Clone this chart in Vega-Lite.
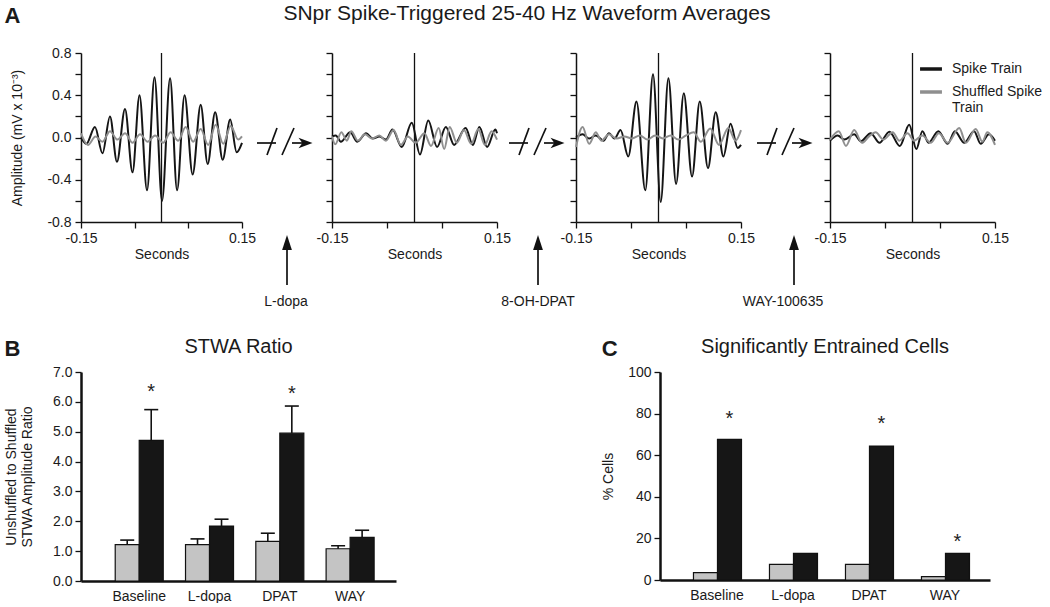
{
  "$schema": "https://vega.github.io/schema/vega-lite/v6.json",
  "background": "white",
  "padding": {"left": 4, "top": 3, "right": 0, "bottom": 0},
  "title": {"text": "A", "anchor": "start", "fontSize": 22, "fontWeight": "bold", "offset": 0, "dy": 25},
  "config": {
    "font": "Liberation Sans",
    "view": {"stroke": null},
    "axis": {"grid": false, "ticks": true, "tickOpacity": 1, "labelOverlap": false, "domainColor": "#111", "tickColor": "#111", "labelColor": "#1a1a1a", "titleColor": "#1a1a1a", "labelFont": "Liberation Sans", "titleFont": "Liberation Sans", "labelFontSize": 14, "titleFontSize": 14, "titleFontWeight": "normal", "domainWidth": 1.5, "tickWidth": 1.3},
    "title": {"font": "Liberation Sans", "fontWeight": "normal", "fontSize": 20, "color": "#1a1a1a"},
    "legend": {"labelFont": "Liberation Sans", "labelFontSize": 14, "labelColor": "#1a1a1a"}
  },
  "datasets": {
    "wave": [
      {"p":1,"s":"Spike Train","t":-0.15,"v":0.0},{"p":1,"s":"Spike Train","t":-0.14,"v":-0.06},{"p":1,"s":"Spike Train","t":-0.124,"v":0.1},{"p":1,"s":"Spike Train","t":-0.11,"v":-0.15},{"p":1,"s":"Spike Train","t":-0.096,"v":0.2},{"p":1,"s":"Spike Train","t":-0.083,"v":-0.23},{"p":1,"s":"Spike Train","t":-0.068,"v":0.27},{"p":1,"s":"Spike Train","t":-0.054,"v":-0.33},{"p":1,"s":"Spike Train","t":-0.041,"v":0.4},{"p":1,"s":"Spike Train","t":-0.027,"v":-0.5},{"p":1,"s":"Spike Train","t":-0.013,"v":0.57},{"p":1,"s":"Spike Train","t":0.001,"v":-0.6},{"p":1,"s":"Spike Train","t":0.016,"v":0.56},{"p":1,"s":"Spike Train","t":0.029,"v":-0.5},{"p":1,"s":"Spike Train","t":0.043,"v":0.4},{"p":1,"s":"Spike Train","t":0.058,"v":-0.35},{"p":1,"s":"Spike Train","t":0.073,"v":0.31},{"p":1,"s":"Spike Train","t":0.086,"v":-0.25},{"p":1,"s":"Spike Train","t":0.1,"v":0.24},{"p":1,"s":"Spike Train","t":0.114,"v":-0.21},{"p":1,"s":"Spike Train","t":0.128,"v":0.17},{"p":1,"s":"Spike Train","t":0.14,"v":-0.14},{"p":1,"s":"Spike Train","t":0.15,"v":-0.05},
      {"p":1,"s":"Shuffled Spike Train","t":-0.15,"v":0.04},{"p":1,"s":"Shuffled Spike Train","t":-0.137,"v":-0.07},{"p":1,"s":"Shuffled Spike Train","t":-0.123,"v":0.01},{"p":1,"s":"Shuffled Spike Train","t":-0.11,"v":-0.04},{"p":1,"s":"Shuffled Spike Train","t":-0.096,"v":0.06},{"p":1,"s":"Shuffled Spike Train","t":-0.082,"v":-0.02},{"p":1,"s":"Shuffled Spike Train","t":-0.068,"v":0.04},{"p":1,"s":"Shuffled Spike Train","t":-0.054,"v":-0.05},{"p":1,"s":"Shuffled Spike Train","t":-0.04,"v":0.03},{"p":1,"s":"Shuffled Spike Train","t":-0.026,"v":-0.04},{"p":1,"s":"Shuffled Spike Train","t":-0.012,"v":0.02},{"p":1,"s":"Shuffled Spike Train","t":0.003,"v":-0.05},{"p":1,"s":"Shuffled Spike Train","t":0.017,"v":0.05},{"p":1,"s":"Shuffled Spike Train","t":0.031,"v":-0.03},{"p":1,"s":"Shuffled Spike Train","t":0.045,"v":0.1},{"p":1,"s":"Shuffled Spike Train","t":0.059,"v":-0.04},{"p":1,"s":"Shuffled Spike Train","t":0.073,"v":0.08},{"p":1,"s":"Shuffled Spike Train","t":0.087,"v":-0.07},{"p":1,"s":"Shuffled Spike Train","t":0.101,"v":0.12},{"p":1,"s":"Shuffled Spike Train","t":0.115,"v":-0.06},{"p":1,"s":"Shuffled Spike Train","t":0.129,"v":0.11},{"p":1,"s":"Shuffled Spike Train","t":0.143,"v":-0.02},{"p":1,"s":"Shuffled Spike Train","t":0.15,"v":0.01},
      {"p":2,"s":"Spike Train","t":-0.15,"v":0.01},{"p":2,"s":"Spike Train","t":-0.143,"v":0.02},{"p":2,"s":"Spike Train","t":-0.134,"v":-0.04},{"p":2,"s":"Spike Train","t":-0.117,"v":0.05},{"p":2,"s":"Spike Train","t":-0.104,"v":-0.04},{"p":2,"s":"Spike Train","t":-0.088,"v":0.04},{"p":2,"s":"Spike Train","t":-0.076,"v":-0.01},{"p":2,"s":"Spike Train","t":-0.064,"v":0.01},{"p":2,"s":"Spike Train","t":-0.052,"v":-0.02},{"p":2,"s":"Spike Train","t":-0.04,"v":0.075},{"p":2,"s":"Spike Train","t":-0.023,"v":-0.09},{"p":2,"s":"Spike Train","t":-0.005,"v":0.14},{"p":2,"s":"Spike Train","t":0.01,"v":-0.16},{"p":2,"s":"Spike Train","t":0.025,"v":0.16},{"p":2,"s":"Spike Train","t":0.041,"v":-0.09},{"p":2,"s":"Spike Train","t":0.057,"v":0.1},{"p":2,"s":"Spike Train","t":0.072,"v":-0.07},{"p":2,"s":"Spike Train","t":0.093,"v":0.09},{"p":2,"s":"Spike Train","t":0.106,"v":-0.07},{"p":2,"s":"Spike Train","t":0.118,"v":0.1},{"p":2,"s":"Spike Train","t":0.132,"v":-0.09},{"p":2,"s":"Spike Train","t":0.147,"v":0.075},{"p":2,"s":"Spike Train","t":0.15,"v":0.04},
      {"p":2,"s":"Shuffled Spike Train","t":-0.15,"v":0.01},{"p":2,"s":"Shuffled Spike Train","t":-0.144,"v":-0.065},{"p":2,"s":"Shuffled Spike Train","t":-0.133,"v":0.05},{"p":2,"s":"Shuffled Spike Train","t":-0.123,"v":-0.03},{"p":2,"s":"Shuffled Spike Train","t":-0.115,"v":0.06},{"p":2,"s":"Shuffled Spike Train","t":-0.103,"v":-0.03},{"p":2,"s":"Shuffled Spike Train","t":-0.09,"v":0.03},{"p":2,"s":"Shuffled Spike Train","t":-0.077,"v":-0.01},{"p":2,"s":"Shuffled Spike Train","t":-0.064,"v":0.02},{"p":2,"s":"Shuffled Spike Train","t":-0.052,"v":-0.03},{"p":2,"s":"Shuffled Spike Train","t":-0.038,"v":0.07},{"p":2,"s":"Shuffled Spike Train","t":-0.025,"v":-0.07},{"p":2,"s":"Shuffled Spike Train","t":-0.012,"v":0.01},{"p":2,"s":"Shuffled Spike Train","t":0.002,"v":-0.05},{"p":2,"s":"Shuffled Spike Train","t":0.018,"v":0.04},{"p":2,"s":"Shuffled Spike Train","t":0.03,"v":-0.08},{"p":2,"s":"Shuffled Spike Train","t":0.044,"v":0.09},{"p":2,"s":"Shuffled Spike Train","t":0.054,"v":-0.11},{"p":2,"s":"Shuffled Spike Train","t":0.064,"v":0.1},{"p":2,"s":"Shuffled Spike Train","t":0.077,"v":-0.05},{"p":2,"s":"Shuffled Spike Train","t":0.09,"v":0.07},{"p":2,"s":"Shuffled Spike Train","t":0.103,"v":-0.06},{"p":2,"s":"Shuffled Spike Train","t":0.116,"v":0.08},{"p":2,"s":"Shuffled Spike Train","t":0.128,"v":-0.07},{"p":2,"s":"Shuffled Spike Train","t":0.14,"v":0.06},{"p":2,"s":"Shuffled Spike Train","t":0.15,"v":-0.02},
      {"p":3,"s":"Spike Train","t":-0.15,"v":0.0},{"p":3,"s":"Spike Train","t":-0.138,"v":0.03},{"p":3,"s":"Spike Train","t":-0.126,"v":-0.01},{"p":3,"s":"Spike Train","t":-0.114,"v":0.02},{"p":3,"s":"Spike Train","t":-0.1,"v":-0.03},{"p":3,"s":"Spike Train","t":-0.09,"v":0.04},{"p":3,"s":"Spike Train","t":-0.08,"v":-0.01},{"p":3,"s":"Spike Train","t":-0.069,"v":0.07},{"p":3,"s":"Spike Train","t":-0.055,"v":-0.18},{"p":3,"s":"Spike Train","t":-0.04,"v":0.34},{"p":3,"s":"Spike Train","t":-0.024,"v":-0.5},{"p":3,"s":"Spike Train","t":-0.01,"v":0.6},{"p":3,"s":"Spike Train","t":0.004,"v":-0.61},{"p":3,"s":"Spike Train","t":0.018,"v":0.56},{"p":3,"s":"Spike Train","t":0.032,"v":-0.44},{"p":3,"s":"Spike Train","t":0.046,"v":0.42},{"p":3,"s":"Spike Train","t":0.061,"v":-0.37},{"p":3,"s":"Spike Train","t":0.075,"v":0.34},{"p":3,"s":"Spike Train","t":0.09,"v":-0.29},{"p":3,"s":"Spike Train","t":0.104,"v":0.24},{"p":3,"s":"Spike Train","t":0.118,"v":-0.18},{"p":3,"s":"Spike Train","t":0.131,"v":0.13},{"p":3,"s":"Spike Train","t":0.144,"v":-0.1},{"p":3,"s":"Spike Train","t":0.15,"v":-0.07},
      {"p":3,"s":"Shuffled Spike Train","t":-0.15,"v":-0.09},{"p":3,"s":"Shuffled Spike Train","t":-0.138,"v":0.1},{"p":3,"s":"Shuffled Spike Train","t":-0.126,"v":-0.06},{"p":3,"s":"Shuffled Spike Train","t":-0.114,"v":0.05},{"p":3,"s":"Shuffled Spike Train","t":-0.104,"v":-0.03},{"p":3,"s":"Shuffled Spike Train","t":-0.09,"v":0.03},{"p":3,"s":"Shuffled Spike Train","t":-0.076,"v":-0.01},{"p":3,"s":"Shuffled Spike Train","t":-0.062,"v":0.01},{"p":3,"s":"Shuffled Spike Train","t":-0.048,"v":-0.01},{"p":3,"s":"Shuffled Spike Train","t":-0.034,"v":0.02},{"p":3,"s":"Shuffled Spike Train","t":-0.02,"v":-0.02},{"p":3,"s":"Shuffled Spike Train","t":-0.006,"v":0.02},{"p":3,"s":"Shuffled Spike Train","t":0.008,"v":-0.01},{"p":3,"s":"Shuffled Spike Train","t":0.022,"v":0.02},{"p":3,"s":"Shuffled Spike Train","t":0.036,"v":-0.02},{"p":3,"s":"Shuffled Spike Train","t":0.05,"v":0.02},{"p":3,"s":"Shuffled Spike Train","t":0.064,"v":0.05},{"p":3,"s":"Shuffled Spike Train","t":0.077,"v":-0.04},{"p":3,"s":"Shuffled Spike Train","t":0.094,"v":0.085},{"p":3,"s":"Shuffled Spike Train","t":0.11,"v":-0.07},{"p":3,"s":"Shuffled Spike Train","t":0.127,"v":0.09},{"p":3,"s":"Shuffled Spike Train","t":0.14,"v":-0.03},{"p":3,"s":"Shuffled Spike Train","t":0.15,"v":0.07},
      {"p":4,"s":"Spike Train","t":-0.15,"v":-0.03},{"p":4,"s":"Spike Train","t":-0.136,"v":0.02},{"p":4,"s":"Spike Train","t":-0.124,"v":-0.02},{"p":4,"s":"Spike Train","t":-0.106,"v":0.03},{"p":4,"s":"Spike Train","t":-0.094,"v":-0.035},{"p":4,"s":"Spike Train","t":-0.076,"v":0.04},{"p":4,"s":"Spike Train","t":-0.06,"v":-0.05},{"p":4,"s":"Spike Train","t":-0.042,"v":0.055},{"p":4,"s":"Spike Train","t":-0.023,"v":-0.08},{"p":4,"s":"Spike Train","t":-0.006,"v":0.12},{"p":4,"s":"Spike Train","t":0.007,"v":-0.11},{"p":4,"s":"Spike Train","t":0.018,"v":0.06},{"p":4,"s":"Spike Train","t":0.029,"v":-0.05},{"p":4,"s":"Spike Train","t":0.047,"v":0.06},{"p":4,"s":"Spike Train","t":0.064,"v":-0.06},{"p":4,"s":"Spike Train","t":0.077,"v":0.06},{"p":4,"s":"Spike Train","t":0.094,"v":-0.05},{"p":4,"s":"Spike Train","t":0.112,"v":0.06},{"p":4,"s":"Spike Train","t":0.124,"v":-0.06},{"p":4,"s":"Spike Train","t":0.139,"v":0.03},{"p":4,"s":"Spike Train","t":0.15,"v":-0.03},
      {"p":4,"s":"Shuffled Spike Train","t":-0.15,"v":-0.02},{"p":4,"s":"Shuffled Spike Train","t":-0.134,"v":0.06},{"p":4,"s":"Shuffled Spike Train","t":-0.121,"v":-0.08},{"p":4,"s":"Shuffled Spike Train","t":-0.106,"v":0.07},{"p":4,"s":"Shuffled Spike Train","t":-0.092,"v":-0.05},{"p":4,"s":"Shuffled Spike Train","t":-0.079,"v":0.01},{"p":4,"s":"Shuffled Spike Train","t":-0.067,"v":0.05},{"p":4,"s":"Shuffled Spike Train","t":-0.053,"v":-0.02},{"p":4,"s":"Shuffled Spike Train","t":-0.036,"v":0.05},{"p":4,"s":"Shuffled Spike Train","t":-0.024,"v":-0.03},{"p":4,"s":"Shuffled Spike Train","t":-0.009,"v":0.04},{"p":4,"s":"Shuffled Spike Train","t":0.003,"v":-0.03},{"p":4,"s":"Shuffled Spike Train","t":0.018,"v":0.02},{"p":4,"s":"Shuffled Spike Train","t":0.033,"v":-0.05},{"p":4,"s":"Shuffled Spike Train","t":0.048,"v":0.04},{"p":4,"s":"Shuffled Spike Train","t":0.064,"v":-0.05},{"p":4,"s":"Shuffled Spike Train","t":0.085,"v":0.09},{"p":4,"s":"Shuffled Spike Train","t":0.097,"v":-0.05},{"p":4,"s":"Shuffled Spike Train","t":0.115,"v":0.08},{"p":4,"s":"Shuffled Spike Train","t":0.127,"v":-0.04},{"p":4,"s":"Shuffled Spike Train","t":0.136,"v":0.05},{"p":4,"s":"Shuffled Spike Train","t":0.15,"v":-0.07}
    ],
    "stwa": [
      {"c":"Baseline","g":"Shuffled","v":1.22,"e":1.37},
      {"c":"Baseline","g":"Unshuffled","v":4.71,"e":5.74,"star":6.5},
      {"c":"L-dopa","g":"Shuffled","v":1.22,"e":1.41},
      {"c":"L-dopa","g":"Unshuffled","v":1.84,"e":2.07},
      {"c":"DPAT","g":"Shuffled","v":1.33,"e":1.6},
      {"c":"DPAT","g":"Unshuffled","v":4.95,"e":5.86,"star":6.43},
      {"c":"WAY","g":"Shuffled","v":1.08,"e":1.18},
      {"c":"WAY","g":"Unshuffled","v":1.46,"e":1.7}
    ],
    "cells": [
      {"c":"Baseline","g":"Shuffled","v":3.5},
      {"c":"Baseline","g":"Unshuffled","v":67.6,"star":80},
      {"c":"L-dopa","g":"Shuffled","v":7.5},
      {"c":"L-dopa","g":"Unshuffled","v":12.8},
      {"c":"DPAT","g":"Shuffled","v":7.5},
      {"c":"DPAT","g":"Unshuffled","v":64.4,"star":77.2},
      {"c":"WAY","g":"Shuffled","v":1.6},
      {"c":"WAY","g":"Unshuffled","v":12.8,"star":20.7}
    ]
  },
  "columns": 1,
  "align": "none",
  "spacing": 27,
  "concat": [
    {
      "title": {"text": "SNpr Spike-Triggered 25-40 Hz Waveform Averages", "anchor": "middle", "offset": 22, "fontSize": 21},
      "bounds": "flush",
      "spacing": 0,
      "resolve": {"scale": {"color": "independent"}, "legend": {"color": "independent"}},
      "hconcat": [
        {
          "width": 161, "height": 169,
          "layer": [
            {"data": {"values": [{}]}, "mark": {"type": "rule", "color": "#111", "strokeWidth": 1.3}, "encoding": {"x": {"datum": 0, "type": "quantitative"}}},
            {"data": {"name": "wave"}, "transform": [{"filter": "datum.p == 1"}],
             "mark": {"type": "line", "interpolate": "monotone", "strokeWidth": 2},
             "encoding": {
               "x": {"field": "t", "type": "quantitative", "scale": {"domain": [-0.15, 0.15], "nice": false, "zero": false},
                     "axis": {"title": "Seconds", "ticks": true, "values": [-0.15, -0.1, -0.05, 0, 0.05, 0.1, 0.15], "labelExpr": "abs(datum.value) < 0.001 ? '0.00' : (datum.value > 0.14 ? '0.15' : (datum.value < -0.14 ? '-0.15' : ''))", "labelFlush": false, "tickSize": 6, "labelPadding": 3, "titlePadding": 2}},
               "y": {"field": "v", "type": "quantitative", "scale": {"domain": [-0.8, 0.8], "nice": false, "zero": false},
                     "axis": {"title": "Amplitude (mV x 10⁻³)", "ticks": true, "values": [-0.8, -0.6, -0.4, -0.2, 0, 0.2, 0.4, 0.6, 0.8], "labelExpr": "(round(datum.value*10) % 4 == 0) ? replace(format(datum.value, '.1f'), '\u2212', '-') : ''", "tickSize": 6, "labelPadding": 4, "titlePadding": 22}},
               "color": {"field": "s", "type": "nominal", "scale": {"domain": ["Spike Train", "Shuffled Spike Train"], "range": ["#151515", "#8f8f8f"]}, "legend": null}
             }}
          ]
        },
        {
          "width": 90, "height": 257,
          "data": {"values": [
            {"k": "seg", "x": 15, "y": 90, "x2": 34, "y2": 90},
            {"k": "seg", "x": 25, "y": 102, "x2": 35, "y2": 75},
            {"k": "seg", "x": 40, "y": 102, "x2": 52, "y2": 75},
            {"k": "seg", "x": 50, "y": 90, "x2": 64, "y2": 90},
            {"k": "seg", "x": 45, "y": 232, "x2": 45, "y2": 196},
            {"k": "right", "x": 63.5, "y": 90},
            {"k": "up", "x": 45, "y": 189.5},
            {"k": "label", "x": 44, "y": 249, "label": "L-dopa"}
          ]},
          "encoding": {
            "x": {"field": "x", "type": "quantitative", "scale": {"domain": [0, 90], "nice": false, "zero": false}, "axis": null},
            "y": {"field": "y", "type": "quantitative", "scale": {"domain": [257, 0], "nice": false, "zero": false}, "axis": null}
          },
          "layer": [
            {"transform": [{"filter": "datum.k == 'seg'"}], "mark": {"type": "rule", "color": "#111", "strokeWidth": 1.7}, "encoding": {"x2": {"field": "x2"}, "y2": {"field": "y2"}}},
            {"transform": [{"filter": "datum.k == 'right'"}], "mark": {"type": "point", "shape": "M1,0L-1,-0.75L-0.45,0L-1,0.75Z", "filled": true, "size": 196, "color": "#111", "opacity": 1}},
            {"transform": [{"filter": "datum.k == 'up'"}], "mark": {"type": "point", "shape": "M0,-1L0.65,1L-0.65,1Z", "filled": true, "size": 225, "color": "#111", "opacity": 1}},
            {"transform": [{"filter": "datum.k == 'label'"}], "mark": {"type": "text", "fontSize": 14, "color": "#1a1a1a", "baseline": "middle"}, "encoding": {"text": {"field": "label"}}}
          ]
        },
        {
          "width": 165, "height": 169,
          "layer": [
            {"data": {"values": [{}]}, "mark": {"type": "rule", "color": "#111", "strokeWidth": 1.3}, "encoding": {"x": {"datum": 0, "type": "quantitative"}}},
            {"data": {"name": "wave"}, "transform": [{"filter": "datum.p == 2"}],
             "mark": {"type": "line", "interpolate": "monotone", "strokeWidth": 2},
             "encoding": {
               "x": {"field": "t", "type": "quantitative", "scale": {"domain": [-0.15, 0.15], "nice": false, "zero": false},
                     "axis": {"title": "Seconds", "ticks": true, "values": [-0.15, -0.1, -0.05, 0, 0.05, 0.1, 0.15], "labelExpr": "abs(datum.value) < 0.001 ? '0.00' : (datum.value > 0.14 ? '0.15' : (datum.value < -0.14 ? '-0.15' : ''))", "labelFlush": false, "tickSize": 6, "labelPadding": 3, "titlePadding": 2}},
               "y": {"field": "v", "type": "quantitative", "scale": {"domain": [-0.8, 0.8], "nice": false, "zero": false},
                     "axis": {"title": null, "ticks": true, "labels": false, "values": [-0.8, -0.6, -0.4, -0.2, 0, 0.2, 0.4, 0.6, 0.8], "tickSize": 6}},
               "color": {"field": "s", "type": "nominal", "scale": {"domain": ["Spike Train", "Shuffled Spike Train"], "range": ["#151515", "#8f8f8f"]}, "legend": null}
             }}
          ]
        },
        {
          "width": 79, "height": 257,
          "data": {"values": [
            {"k": "seg", "x": 12, "y": 90, "x2": 31, "y2": 90},
            {"k": "seg", "x": 22, "y": 102, "x2": 32, "y2": 75},
            {"k": "seg", "x": 37, "y": 102, "x2": 49, "y2": 75},
            {"k": "seg", "x": 47, "y": 90, "x2": 61, "y2": 90},
            {"k": "seg", "x": 41, "y": 232, "x2": 41, "y2": 196},
            {"k": "right", "x": 60.5, "y": 90},
            {"k": "up", "x": 41, "y": 189.5},
            {"k": "label", "x": 41, "y": 249, "label": "8-OH-DPAT"}
          ]},
          "encoding": {
            "x": {"field": "x", "type": "quantitative", "scale": {"domain": [0, 79], "nice": false, "zero": false}, "axis": null},
            "y": {"field": "y", "type": "quantitative", "scale": {"domain": [257, 0], "nice": false, "zero": false}, "axis": null}
          },
          "layer": [
            {"transform": [{"filter": "datum.k == 'seg'"}], "mark": {"type": "rule", "color": "#111", "strokeWidth": 1.7}, "encoding": {"x2": {"field": "x2"}, "y2": {"field": "y2"}}},
            {"transform": [{"filter": "datum.k == 'right'"}], "mark": {"type": "point", "shape": "M1,0L-1,-0.75L-0.45,0L-1,0.75Z", "filled": true, "size": 196, "color": "#111", "opacity": 1}},
            {"transform": [{"filter": "datum.k == 'up'"}], "mark": {"type": "point", "shape": "M0,-1L0.65,1L-0.65,1Z", "filled": true, "size": 225, "color": "#111", "opacity": 1}},
            {"transform": [{"filter": "datum.k == 'label'"}], "mark": {"type": "text", "fontSize": 14, "color": "#1a1a1a", "baseline": "middle"}, "encoding": {"text": {"field": "label"}}}
          ]
        },
        {
          "width": 165, "height": 169,
          "layer": [
            {"data": {"values": [{}]}, "mark": {"type": "rule", "color": "#111", "strokeWidth": 1.3}, "encoding": {"x": {"datum": 0, "type": "quantitative"}}},
            {"data": {"name": "wave"}, "transform": [{"filter": "datum.p == 3"}],
             "mark": {"type": "line", "interpolate": "monotone", "strokeWidth": 2},
             "encoding": {
               "x": {"field": "t", "type": "quantitative", "scale": {"domain": [-0.15, 0.15], "nice": false, "zero": false},
                     "axis": {"title": "Seconds", "ticks": true, "values": [-0.15, -0.1, -0.05, 0, 0.05, 0.1, 0.15], "labelExpr": "abs(datum.value) < 0.001 ? '0.00' : (datum.value > 0.14 ? '0.15' : (datum.value < -0.14 ? '-0.15' : ''))", "labelFlush": false, "tickSize": 6, "labelPadding": 3, "titlePadding": 2}},
               "y": {"field": "v", "type": "quantitative", "scale": {"domain": [-0.8, 0.8], "nice": false, "zero": false},
                     "axis": {"title": null, "ticks": true, "labels": false, "values": [-0.8, -0.6, -0.4, -0.2, 0, 0.2, 0.4, 0.6, 0.8], "tickSize": 6}},
               "color": {"field": "s", "type": "nominal", "scale": {"domain": ["Spike Train", "Shuffled Spike Train"], "range": ["#151515", "#8f8f8f"]}, "legend": null}
             }}
          ]
        },
        {
          "width": 89, "height": 257,
          "data": {"values": [
            {"k": "seg", "x": 16, "y": 90, "x2": 35, "y2": 90},
            {"k": "seg", "x": 26, "y": 102, "x2": 36, "y2": 75},
            {"k": "seg", "x": 41, "y": 102, "x2": 53, "y2": 75},
            {"k": "seg", "x": 51, "y": 90, "x2": 65, "y2": 90},
            {"k": "seg", "x": 53, "y": 232, "x2": 53, "y2": 196},
            {"k": "right", "x": 64.5, "y": 90},
            {"k": "up", "x": 53, "y": 189.5},
            {"k": "label", "x": 42, "y": 249, "label": "WAY-100635"}
          ]},
          "encoding": {
            "x": {"field": "x", "type": "quantitative", "scale": {"domain": [0, 89], "nice": false, "zero": false}, "axis": null},
            "y": {"field": "y", "type": "quantitative", "scale": {"domain": [257, 0], "nice": false, "zero": false}, "axis": null}
          },
          "layer": [
            {"transform": [{"filter": "datum.k == 'seg'"}], "mark": {"type": "rule", "color": "#111", "strokeWidth": 1.7}, "encoding": {"x2": {"field": "x2"}, "y2": {"field": "y2"}}},
            {"transform": [{"filter": "datum.k == 'right'"}], "mark": {"type": "point", "shape": "M1,0L-1,-0.75L-0.45,0L-1,0.75Z", "filled": true, "size": 196, "color": "#111", "opacity": 1}},
            {"transform": [{"filter": "datum.k == 'up'"}], "mark": {"type": "point", "shape": "M0,-1L0.65,1L-0.65,1Z", "filled": true, "size": 225, "color": "#111", "opacity": 1}},
            {"transform": [{"filter": "datum.k == 'label'"}], "mark": {"type": "text", "fontSize": 14, "color": "#1a1a1a", "baseline": "middle"}, "encoding": {"text": {"field": "label"}}}
          ]
        },
        {
          "width": 165, "height": 169,
          "layer": [
            {"data": {"values": [{}]}, "mark": {"type": "rule", "color": "#111", "strokeWidth": 1.3}, "encoding": {"x": {"datum": 0, "type": "quantitative"}}},
            {"data": {"name": "wave"}, "transform": [{"filter": "datum.p == 4"}],
             "mark": {"type": "line", "interpolate": "monotone", "strokeWidth": 2},
             "encoding": {
               "x": {"field": "t", "type": "quantitative", "scale": {"domain": [-0.15, 0.15], "nice": false, "zero": false},
                     "axis": {"title": "Seconds", "ticks": true, "values": [-0.15, -0.1, -0.05, 0, 0.05, 0.1, 0.15], "labelExpr": "abs(datum.value) < 0.001 ? '0.00' : (datum.value > 0.14 ? '0.15' : (datum.value < -0.14 ? '-0.15' : ''))", "labelFlush": false, "tickSize": 6, "labelPadding": 3, "titlePadding": 2}},
               "y": {"field": "v", "type": "quantitative", "scale": {"domain": [-0.8, 0.8], "nice": false, "zero": false},
                     "axis": {"title": null, "ticks": true, "labels": false, "values": [-0.8, -0.6, -0.4, -0.2, 0, 0.2, 0.4, 0.6, 0.8], "tickSize": 6}},
               "color": {"field": "s", "type": "nominal", "scale": {"domain": ["Spike Train", "Shuffled Spike Train"], "range": ["#151515", "#8f8f8f"]},
                         "legend": {"orient": "none", "legendX": 88, "legendY": 3, "title": null, "symbolType": "stroke", "symbolStrokeWidth": 3.5, "symbolSize": 480, "labelFontSize": 14, "labelOffset": 8, "rowPadding": 3, "labelExpr": "datum.label == 'Shuffled Spike Train' ? ['Shuffled Spike', 'Train'] : datum.label"}}
             }}
          ]
        }
      ]
    },
    {
      "spacing": 205,
      "hconcat": [
        {
          "title": {"text": "B", "anchor": "start", "fontSize": 22, "fontWeight": "bold", "offset": 0, "dy": 24},
          "vconcat": [
            {
              "title": {"text": "STWA Ratio", "offset": 8},
              "width": 315, "height": 209,
              "data": {"name": "stwa"},
              "encoding": {
                "x": {"field": "c", "type": "nominal", "sort": ["Baseline", "L-dopa", "DPAT", "WAY"], "scale": {"paddingInner": 0.317, "paddingOuter": 0.399, "align": 0.61},
                      "axis": {"title": null, "labelAngle": 0, "ticks": false, "domainWidth": 2.5, "labelPadding": 8}},
                "xOffset": {"field": "g", "type": "nominal", "sort": ["Shuffled", "Unshuffled"], "scale": {"paddingInner": 0, "paddingOuter": 0}}
              },
              "layer": [
                {"mark": {"type": "bar", "stroke": "#111", "strokeWidth": 1.2},
                 "encoding": {
                   "y": {"field": "v", "type": "quantitative", "scale": {"domain": [0, 7], "nice": false},
                         "axis": {"title": ["Unshuffled to Shuffled", "STWA Amplitude Ratio"], "ticks": true, "values": [0, 1, 2, 3, 4, 5, 6, 7], "labelOverlap": false, "format": ".1f", "tickSize": 6, "labelPadding": 3, "titlePadding": 18, "domainWidth": 2.5}},
                   "fill": {"field": "g", "type": "nominal", "scale": {"domain": ["Shuffled", "Unshuffled"], "range": ["#c4c4c4", "#161616"]}, "legend": null}
                 }},
                {"mark": {"type": "rule", "color": "#111", "strokeWidth": 1.6}, "encoding": {"y": {"field": "v", "type": "quantitative", "axis": {"title": ["Unshuffled to Shuffled", "STWA Amplitude Ratio"], "ticks": true, "values": [0, 1, 2, 3, 4, 5, 6, 7], "labelOverlap": false, "format": ".1f", "tickSize": 6, "labelPadding": 3, "titlePadding": 18, "domainWidth": 2.5}}, "y2": {"field": "e"}}},
                {"mark": {"type": "tick", "orient": "horizontal", "size": 14, "thickness": 1.6, "color": "#111", "opacity": 1}, "encoding": {"y": {"field": "e", "type": "quantitative", "axis": {"title": ["Unshuffled to Shuffled", "STWA Amplitude Ratio"], "ticks": true, "values": [0, 1, 2, 3, 4, 5, 6, 7], "labelOverlap": false, "format": ".1f", "tickSize": 6, "labelPadding": 3, "titlePadding": 18, "domainWidth": 2.5}}}},
                {"transform": [{"filter": "isValid(datum.star)"}], "mark": {"type": "text", "text": "*", "fontSize": 20, "color": "#222", "dy": 5}, "encoding": {"y": {"field": "star", "type": "quantitative", "axis": {"title": ["Unshuffled to Shuffled", "STWA Amplitude Ratio"], "ticks": true, "values": [0, 1, 2, 3, 4, 5, 6, 7], "labelOverlap": false, "format": ".1f", "tickSize": 6, "labelPadding": 3, "titlePadding": 18, "domainWidth": 2.5}}}}
              ]
            }
          ]
        },
        {
          "title": {"text": "C", "anchor": "start", "fontSize": 22, "fontWeight": "bold", "offset": 0, "dy": 24},
          "vconcat": [
            {
              "title": {"text": "Significantly Entrained Cells", "offset": 8},
              "width": 330, "height": 208,
              "data": {"name": "cells"},
              "encoding": {
                "x": {"field": "c", "type": "nominal", "sort": ["Baseline", "L-dopa", "DPAT", "WAY"], "scale": {"paddingInner": 0.38, "paddingOuter": 0.361, "align": 0.61},
                      "axis": {"title": null, "labelAngle": 0, "ticks": false, "domainWidth": 2.5, "labelPadding": 8}},
                "xOffset": {"field": "g", "type": "nominal", "sort": ["Shuffled", "Unshuffled"], "scale": {"paddingInner": 0, "paddingOuter": 0}}
              },
              "layer": [
                {"mark": {"type": "bar", "stroke": "#111", "strokeWidth": 1.2},
                 "encoding": {
                   "y": {"field": "v", "type": "quantitative", "scale": {"domain": [0, 100], "nice": false},
                         "axis": {"title": "% Cells", "ticks": true, "values": [0, 20, 40, 60, 80, 100], "format": "d", "tickSize": 6, "labelPadding": 3, "titlePadding": 12, "domainWidth": 2.5}},
                   "fill": {"field": "g", "type": "nominal", "scale": {"domain": ["Shuffled", "Unshuffled"], "range": ["#c4c4c4", "#161616"]}, "legend": null}
                 }},
                {"transform": [{"filter": "isValid(datum.star)"}], "mark": {"type": "text", "text": "*", "fontSize": 20, "color": "#222", "dy": 5}, "encoding": {"y": {"field": "star", "type": "quantitative", "axis": {"title": "% Cells", "ticks": true, "values": [0, 20, 40, 60, 80, 100], "format": "d", "tickSize": 6, "labelPadding": 3, "titlePadding": 12, "domainWidth": 2.5}}}}
              ]
            }
          ]
        }
      ]
    }
  ]
}
